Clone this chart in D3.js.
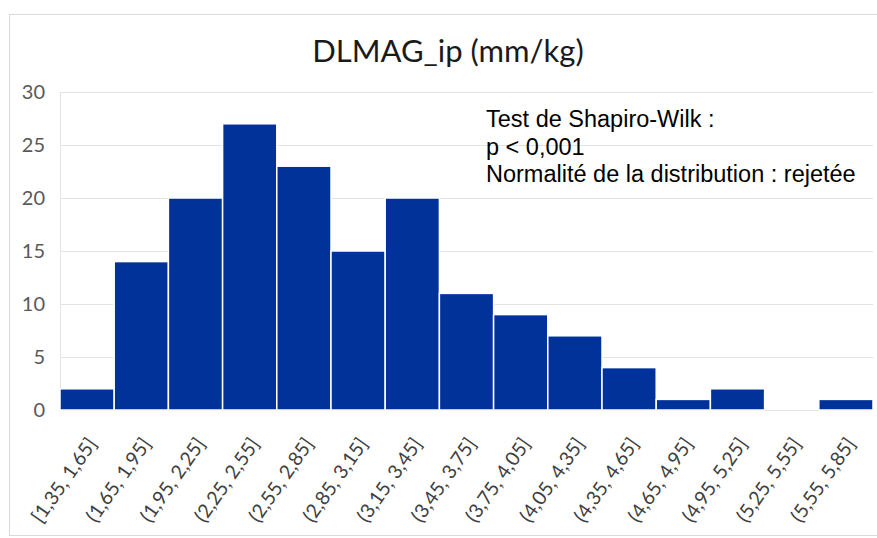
<!DOCTYPE html>
<html><head><meta charset="utf-8">
<script src="https://cdn.jsdelivr.net/npm/d3@7"></script>
<style>
html,body{margin:0;padding:0;background:#fff;}
svg{display:block;}
</style></head>
<body>
<svg id="chart" width="877" height="538"></svg>
<script>
const title = "DLMAG_ip (mm/kg)";
const categories = ["[1,35, 1,65]","(1,65, 1,95]","(1,95, 2,25]","(2,25, 2,55]","(2,55, 2,85]","(2,85, 3,15]","(3,15, 3,45]","(3,45, 3,75]","(3,75, 4,05]","(4,05, 4,35]","(4,35, 4,65]","(4,65, 4,95]","(4,95, 5,25]","(5,25, 5,55]","(5,55, 5,85]"];
const counts = [2,14,20,27,23,15,20,11,9,7,4,1,2,0,1];
const yTicks = [0,5,10,15,20,25,30];
const annotation = ["Test de Shapiro-Wilk :","p < 0,001","Normalité de la distribution : rejetée"];

const svg = d3.select("#chart");
const plot = {left:60, right:873, top:92, bottom:410};

// frame
svg.append("rect").attr("x",9.5).attr("y",14.5).attr("width",900).attr("height",521)
  .attr("fill","#fff").attr("stroke","#d9d9d9").attr("stroke-width",1);

const x = d3.scaleBand().domain(categories).range([plot.left, plot.right]).padding(0);
const y = d3.scaleLinear().domain([0,30]).range([plot.bottom, plot.top]);

// gridlines
svg.append("g").selectAll("line").data(yTicks).join("line")
  .attr("x1",plot.left).attr("x2",plot.right)
  .attr("y1",d=>Math.round(y(d))+0.5).attr("y2",d=>Math.round(y(d))+0.5)
  .attr("stroke","#e3e3e3").attr("stroke-width",1);
svg.append("line").attr("x1",plot.left+0.5).attr("x2",plot.left+0.5)
  .attr("y1",plot.top).attr("y2",plot.bottom).attr("stroke","#e3e3e3");

// bars
svg.append("g").selectAll("rect").data(counts).join("rect")
  .attr("x",(d,i)=>x(categories[i]))
  .attr("width",x.bandwidth())
  .attr("y",d=>y(d))
  .attr("height",d=>y(0)-y(d))
  .attr("fill","#003299")
  .attr("stroke","#ffffff").attr("stroke-width",1.5);

// y axis
const yAxis = d3.axisLeft(y).tickValues(yTicks).tickSize(0).tickPadding(15);
const ya = svg.append("g").attr("transform",`translate(${plot.left},0)`).call(yAxis);
ya.select(".domain").remove();
ya.selectAll("text").attr("font-family","Lato, 'Open Sans', sans-serif").attr("font-size",20).attr("fill","#595959");

// x axis labels
const xAxis = d3.axisBottom(x).tickSize(0).tickPadding(0);
const xa = svg.append("g").attr("transform",`translate(0,${plot.bottom})`).call(xAxis);
xa.select(".domain").remove();
xa.selectAll("text")
  .attr("font-family","Lato, 'Open Sans', sans-serif").attr("font-size",19.5).attr("fill","#404040")
  .attr("text-anchor","end").attr("dy","0.35em")
  .attr("transform","translate(5,30) rotate(-55)");

// title
svg.append("text").attr("x",448).attr("y",62).attr("text-anchor","middle")
  .attr("font-family","Lato, 'Open Sans', sans-serif").attr("font-size",31).attr("fill","#1a1a1a")
  .text(title);

// annotation
svg.append("g").selectAll("text").data(annotation).join("text")
  .attr("x",486).attr("y",(d,i)=>127+i*27.5)
  .attr("font-family","'Liberation Sans', Arial, sans-serif").attr("font-size",23.5).attr("fill","#000")
  .text(d=>d);
</script>
</body></html>
